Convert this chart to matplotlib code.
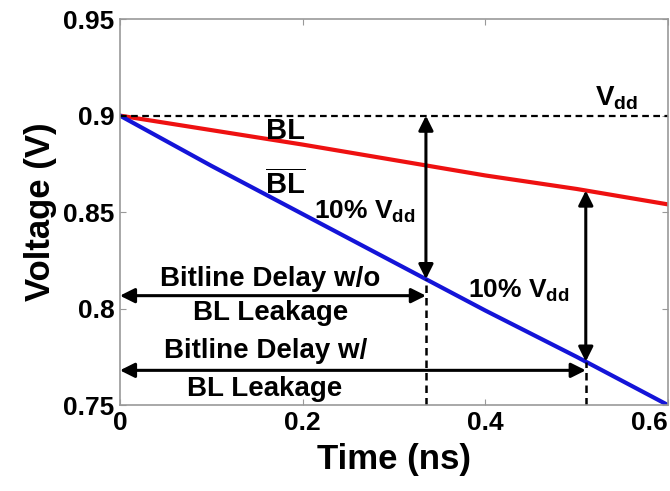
import numpy as np
import matplotlib
matplotlib.use("Agg")
import matplotlib.pyplot as plt

plt.rcParams['font.family'] = ['Liberation Sans', 'DejaVu Sans']
plt.rcParams['font.weight'] = 'bold'
plt.rcParams['mathtext.fontset'] = 'custom'
plt.rcParams['mathtext.rm'] = 'Liberation Sans:bold'
plt.rcParams['mathtext.it'] = 'Liberation Sans:bold'
plt.rcParams['mathtext.bf'] = 'Liberation Sans:bold'

# bitline waveforms
time = [0.0, 0.1, 0.2, 0.3, 0.4, 0.5, 0.6]
bl = [0.900, 0.8925, 0.885, 0.877, 0.869, 0.862, 0.854]
blb = [0.900, 0.874, 0.849, 0.824, 0.799, 0.775, 0.750]
vdd = 0.9
# time where BLB reaches 10% Vdd swing: w/o leakage (vs Vdd), w/ leakage (vs BL)
t_no_leak = 0.335
t_leak = 0.51

xticks = [0, 0.2, 0.4, 0.6]
xticklabels = ['0', '0.2', '0.4', '0.6']
yticks = [0.75, 0.8, 0.85, 0.9, 0.95]
yticklabels = ['0.75', '0.8', '0.85', '0.9', '0.95']

fig = plt.figure(figsize=(6.7, 4.91), dpi=100)
ax = fig.add_axes([0.179, 0.175, 0.818, 0.786])

ax.plot(time, bl, color='#ee1111', lw=3)
ax.plot(time, blb, color='#1414d8', lw=3)
ax.plot([time[0], time[-1]], [vdd, vdd], 'k--', lw=1.6, dashes=(3, 2))

ax.set_xlim(0, 0.6)
ax.set_ylim(0.75, 0.95)
ax.set_xticks(xticks)
ax.set_xticklabels(xticklabels)
ax.set_yticks(yticks)
ax.set_yticklabels(yticklabels)
ax.tick_params(direction='in', length=4, color='#999999', labelsize=19, pad=4,
               top=True, right=True)
xl = ax.get_xticklabels()
xl[-1].set_horizontalalignment('right')
xl[-1].set_x(0.6)
for s in ax.spines.values():
    s.set_color('#999999')
    s.set_linewidth(1.2)
ax.set_xlabel('Time (ns)', fontsize=25, fontweight='bold', labelpad=6)
ax.set_ylabel('Voltage (V)', fontsize=25, fontweight='bold', labelpad=4)

bl_at_t1 = np.interp(t_no_leak, time, blb)
bl_at_t2_hi = np.interp(t_leak, time, bl)
bl_at_t2_lo = np.interp(t_leak, time, blb)

arr = dict(arrowstyle='<|-|>', color='k', lw=2.2, mutation_scale=22, shrinkA=0, shrinkB=0)

# vertical 10% Vdd arrows
ax.annotate('', xy=(t_no_leak, vdd), xytext=(t_no_leak, bl_at_t1), arrowprops=arr)
ax.annotate('', xy=(t_leak, bl_at_t2_hi), xytext=(t_leak, bl_at_t2_lo), arrowprops=arr)

# vertical dashed drops to the axis
ax.plot([t_no_leak, t_no_leak], [0.75, bl_at_t1], 'k--', lw=1.8, dashes=(3, 2))
ax.plot([t_leak, t_leak], [0.75, bl_at_t2_lo], 'k--', lw=1.8, dashes=(3, 2))

# horizontal delay arrows
ax.annotate('', xy=(0, 0.8067), xytext=(t_no_leak, 0.8067), arrowprops=arr)
ax.annotate('', xy=(0, 0.768), xytext=(t_leak, 0.768), arrowprops=arr)

fs = 20
ax.text(0.165, 0.8155, 'Bitline Delay w/o', fontsize=fs, ha='center', va='center')
ax.text(0.165, 0.7975, 'BL Leakage', fontsize=fs, ha='center', va='center')
ax.text(0.160, 0.778, 'Bitline Delay w/', fontsize=fs, ha='center', va='center')
ax.text(0.158, 0.7585, 'BL Leakage', fontsize=fs, ha='center', va='center')

ax.text(0.181, 0.892, 'BL', fontsize=21, ha='center', va='center')
ax.text(0.181, 0.864, r'$\overline{\mathrm{BL}}$', fontsize=21, ha='center', va='center')
ax.text(0.268, 0.850, r'10% V$_{\mathrm{dd}}$', fontsize=19, ha='center', va='center')
ax.text(0.437, 0.809, r'10% V$_{\mathrm{dd}}$', fontsize=19, ha='center', va='center')
ax.text(0.544, 0.909, r'V$_{\mathrm{dd}}$', fontsize=20, ha='center', va='center')

fig.savefig('out.png', dpi=100)
